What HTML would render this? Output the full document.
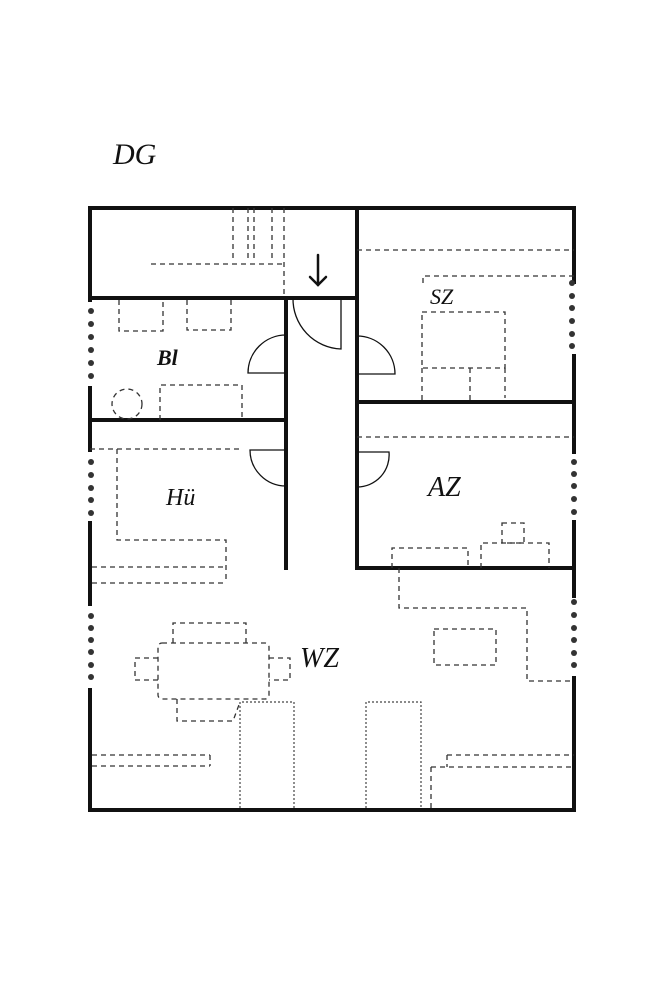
<!DOCTYPE html>
<html><head><meta charset="utf-8"><style>
html,body{margin:0;padding:0;background:#fff;}
svg{display:block;}
text{font-family:"Liberation Serif",serif;font-style:italic;fill:#111;}
</style></head><body>
<svg width="667" height="1000" viewBox="0 0 667 1000" xmlns="http://www.w3.org/2000/svg">
<rect width="667" height="1000" fill="#fff"/>
<text x="113" y="164" font-size="30">DG</text>
<!-- walls -->
<g stroke="#111" stroke-width="4" fill="none" stroke-linecap="square">
<line x1="90" y1="208" x2="574" y2="208"/>
<line x1="90" y1="810" x2="574" y2="810"/>
<line x1="90" y1="208" x2="90" y2="300"/>
<line x1="90" y1="388" x2="90" y2="450"/>
<line x1="90" y1="523" x2="90" y2="604"/>
<line x1="90" y1="690" x2="90" y2="810"/>
<line x1="574" y1="208" x2="574" y2="282"/>
<line x1="574" y1="356" x2="574" y2="452"/>
<line x1="574" y1="522" x2="574" y2="596"/>
<line x1="574" y1="678" x2="574" y2="810"/>
<line x1="90" y1="298" x2="357" y2="298"/>
<line x1="357" y1="208" x2="357" y2="568"/>
<line x1="286" y1="298" x2="286" y2="568"/>
<line x1="90" y1="420" x2="286" y2="420"/>
<line x1="357" y1="402" x2="574" y2="402"/>
<line x1="357" y1="568" x2="574" y2="568"/>
</g>
<!-- window dots -->
<g fill="#333">
<circle cx="91" cy="311" r="3"/><circle cx="91" cy="324" r="3"/><circle cx="91" cy="337" r="3"/><circle cx="91" cy="350" r="3"/><circle cx="91" cy="363" r="3"/><circle cx="91" cy="376" r="3"/>
<circle cx="91" cy="462" r="3"/><circle cx="91" cy="475" r="3"/><circle cx="91" cy="488" r="3"/><circle cx="91" cy="500" r="3"/><circle cx="91" cy="513" r="3"/>
<circle cx="91" cy="616" r="3"/><circle cx="91" cy="628" r="3"/><circle cx="91" cy="640" r="3"/><circle cx="91" cy="652" r="3"/><circle cx="91" cy="665" r="3"/><circle cx="91" cy="677" r="3"/>
<circle cx="572" cy="283" r="3"/><circle cx="572" cy="296" r="3"/><circle cx="572" cy="308" r="3"/><circle cx="572" cy="321" r="3"/><circle cx="572" cy="334" r="3"/><circle cx="572" cy="346" r="3"/>
<circle cx="574" cy="462" r="3"/><circle cx="574" cy="474" r="3"/><circle cx="574" cy="486" r="3"/><circle cx="574" cy="499" r="3"/><circle cx="574" cy="512" r="3"/>
<circle cx="574" cy="602" r="3"/><circle cx="574" cy="615" r="3"/><circle cx="574" cy="628" r="3"/><circle cx="574" cy="640" r="3"/><circle cx="574" cy="653" r="3"/><circle cx="574" cy="665" r="3"/>
</g>
<!-- doors -->
<g stroke="#111" stroke-width="1.3" fill="none">
<path d="M286 373 L248 373 A38 38 0 0 1 286 335"/>
<path d="M341 298 L341 349 A50 50 0 0 1 293 298"/>
<path d="M357 374 L395 374 A38 38 0 0 0 357 336"/>
<path d="M286 450 L250 450 A36 36 0 0 0 286 486"/>
<path d="M357 452 L389 452 A32 32 0 0 1 357 487"/>
</g>
<!-- dashed furniture -->
<g stroke="#333" stroke-width="1.3" fill="none" stroke-dasharray="5,4">
<line x1="233" y1="208" x2="233" y2="262"/><line x1="248" y1="208" x2="248" y2="262"/><line x1="254" y1="208" x2="254" y2="262"/><line x1="272" y1="208" x2="272" y2="262"/><line x1="284" y1="208" x2="284" y2="298"/>
<line x1="151" y1="264" x2="284" y2="264"/>
<path d="M119 300 V331 H163 V300"/><path d="M187 300 V330 H231 V300"/>
<circle cx="127" cy="404" r="15"/>
<path d="M160 420 V385 H242 V420"/>
<line x1="357" y1="250" x2="574" y2="250"/>
<path d="M423 283 V276 H574"/>
<rect x="422" y="312" width="83" height="56"/>
<line x1="422" y1="368" x2="422" y2="402"/><line x1="470" y1="368" x2="470" y2="402"/><line x1="505" y1="368" x2="505" y2="398"/>
<line x1="357" y1="437" x2="574" y2="437"/>
<rect x="502" y="523" width="22" height="20"/>
<path d="M481 568 V543 H549 V568"/>
<path d="M392 568 V548 H468 V568"/>
<path d="M90 449 H243"/>
<path d="M117 449 V540 H226 V583"/>
<line x1="92" y1="567" x2="226" y2="567"/><line x1="92" y1="583" x2="226" y2="583"/>
<path d="M399 568 V608 H527 V681 H574"/>
<rect x="434" y="629" width="62" height="36"/>
<rect x="158" y="643" width="111" height="56" rx="4"/>
<path d="M173 643 V623 H246 V643"/>
<path d="M158 658 H135 V680 H158"/><path d="M269 658 H290 V680 H269"/>
<path d="M177 699 V721 H233 L240 702"/>
<line x1="92" y1="755" x2="210" y2="755"/><line x1="92" y1="766" x2="210" y2="766"/><line x1="210" y1="755" x2="210" y2="766"/>
<line x1="447" y1="755" x2="574" y2="755"/><line x1="431" y1="767" x2="574" y2="767"/><line x1="447" y1="755" x2="447" y2="767"/><line x1="431" y1="767" x2="431" y2="808"/>
</g>
<g stroke="#444" stroke-width="1.2" fill="none" stroke-dasharray="2,2">
<path d="M240 808 V702 H294 V808"/>
<path d="M366 808 V702 H421 V808"/>
</g>
<!-- arrow -->
<g stroke="#111" stroke-width="2.5" fill="none" stroke-linecap="round">
<line x1="318" y1="255" x2="318" y2="285"/><path d="M310 277 L318 285 L326 277"/>
</g>
<text x="430" y="304" font-size="22">SZ</text>
<text x="157" y="365" font-size="22" font-weight="bold">Bl</text>
<text x="166" y="505" font-size="24">Hü</text>
<text x="428" y="496" font-size="28">AZ</text>
<text x="300" y="667" font-size="28">WZ</text>
</svg>
</body></html>
